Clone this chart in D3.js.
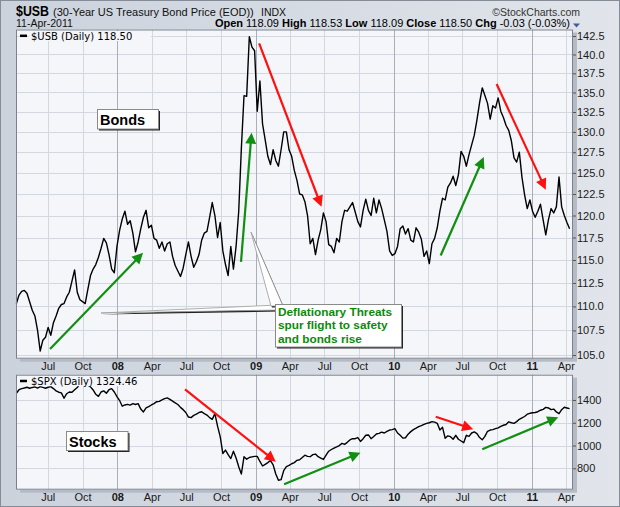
<!DOCTYPE html>
<html>
<head>
<meta charset="utf-8">
<script src="https://cdnjs.cloudflare.com/ajax/libs/d3/7.8.5/d3.min.js"></script>
<style>
  body { margin: 0; background: #fff; }
  svg { display: block; font-family: "Liberation Sans", Arial, sans-serif; }
</style>
</head>
<body>
<div id="chart"></div>
<script>
// Weekly closes. First week is 9-Apr-2007, one value per week.
const firstWeek = "2007-04-09";

const bondClose = [
  110.3, 111.2, 111.6, 111.7, 111.4, 110.5, 109.6, 109.0, 107.5, 105.4,
  106.5, 106.8, 107.8, 107.0, 108.3, 109.0, 109.8, 110.2, 110.3, 111.0,
  111.5, 112.7, 113.9, 111.5, 110.7, 110.5, 110.3, 111.8, 113.3, 114.0,
  114.5, 115.3, 116.3, 117.4, 116.9, 115.6, 114.0, 113.6, 116.5, 118.3,
  119.6, 120.5, 119.0, 119.4, 118.0, 115.9, 117.0, 118.5, 119.8, 120.6,
  118.6, 118.9, 117.4, 117.2, 116.3, 117.0, 116.0, 116.8, 117.0, 115.4,
  114.4, 113.8, 113.2, 114.1, 115.6, 117.0, 115.4, 114.2, 114.8, 115.6,
  117.2, 118.0, 118.2, 119.8, 121.5, 120.0, 117.5, 119.2, 116.0, 114.5,
  113.3, 116.5, 114.0, 116.5, 120.5, 128.0, 134.6, 134.5, 142.4, 141.0,
  140.5, 132.6, 136.5, 131.0, 129.0, 127.0, 126.0, 127.8, 126.5, 125.8,
  127.8, 130.0, 130.0, 127.8, 127.0, 125.3, 124.1, 122.5, 122.4, 121.6,
  120.0, 116.8, 117.4, 115.6, 117.2, 118.4, 120.3, 119.3, 116.7, 116.5,
  115.8, 117.4, 117.0, 119.3, 120.6, 120.5, 121.0, 121.5, 120.4, 119.3,
  118.7, 120.6, 121.9, 120.6, 120.0, 122.0, 120.3, 121.8, 120.8, 119.5,
  118.2, 116.0, 115.5, 115.7, 116.5, 118.5, 118.8, 117.9, 118.5, 117.2,
  117.0, 118.6, 118.1, 117.3, 115.4, 116.0, 114.6, 116.8, 117.4, 118.6,
  120.5, 122.0, 121.8, 123.3, 123.8, 124.6, 123.5, 124.8, 127.6, 127.0,
  125.8, 127.2, 128.4, 129.6, 131.5, 133.7, 135.6, 134.6, 133.6, 131.6,
  133.3, 133.0, 134.3, 132.6, 131.8, 130.8, 130.2, 128.9, 126.8, 126.3,
  127.5, 124.5, 122.4, 120.8, 121.8, 120.5, 119.8, 120.5, 121.3, 119.5,
  117.8, 119.5, 120.8, 120.3, 121.0, 124.5, 121.0, 120.0, 119.2, 118.5
];

const spxClose = [
  1459, 1490, 1500, 1505, 1512, 1503, 1510, 1515, 1505, 1517,
  1510, 1503, 1512, 1517, 1500, 1480, 1468, 1462, 1415, 1455,
  1470, 1468, 1490, 1510, 1540, 1555, 1550, 1530, 1515, 1488,
  1450, 1432, 1470, 1480, 1459, 1490, 1500, 1470, 1430, 1395,
  1345, 1356, 1362, 1355, 1368, 1360, 1368, 1320, 1295, 1330,
  1341, 1356, 1368, 1385, 1388, 1400, 1412, 1418, 1405, 1390,
  1375, 1360, 1335, 1315, 1290, 1250, 1245, 1265, 1275, 1290,
  1297, 1280, 1268, 1245, 1230, 1280, 1170, 1078, 930, 960,
  920, 885, 950, 890, 814, 750, 902, 880, 895, 900,
  905, 905, 860, 820, 835, 850, 868, 830, 750, 695,
  700, 780, 815, 825, 840, 850, 870, 875, 895, 915,
  905, 902, 920, 925, 902, 890, 878, 915, 950, 965,
  978, 988, 1000, 1019, 1010, 1028, 1049, 1060, 1060, 1070,
  1036, 1060, 1090, 1093, 1060, 1080, 1101, 1107, 1118, 1110,
  1125, 1136, 1140, 1148, 1110, 1090, 1065, 1068, 1100, 1122,
  1140, 1152, 1166, 1175, 1185, 1195, 1200, 1210, 1205, 1195,
  1136, 1160, 1063, 1085, 1078, 1055, 1090, 1055, 1040, 1025,
  1090, 1080, 1110, 1120, 1105, 1070, 1050, 1080, 1125, 1136,
  1140, 1148, 1155, 1168, 1178, 1185, 1208, 1200, 1195, 1210,
  1230, 1242, 1255, 1275, 1283, 1288, 1290, 1297, 1310, 1318,
  1335, 1330, 1315, 1320, 1295, 1280, 1315, 1336, 1330, 1324.46
];

const bondTicks = [105, 107.5, 110, 112.5, 115, 117.5, 120, 122.5, 125, 127.5, 130, 132.5, 135, 137.5, 140, 142.5];
const spxTicks = [800, 1000, 1200, 1400];

const monthTicks = ["2007-07-01", "2007-10-01", "2008-01-01", "2008-04-01", "2008-07-01", "2008-10-01",
  "2009-01-01", "2009-04-01", "2009-07-01", "2009-10-01", "2010-01-01", "2010-04-01",
  "2010-07-01", "2010-10-01", "2011-01-01", "2011-04-01"];
const monthLabels = ["Jul", "Oct", "08", "Apr", "Jul", "Oct", "09", "Apr", "Jul", "Oct", "10", "Apr", "Jul", "Oct", "11", "Apr"];

// trend arrows: [date, value] of tail and head
const bondArrows = [
  { from: ["2007-07-07", 105.6], to: ["2008-03-09", 115.8], up: true },
  { from: ["2008-11-23", 114.8], to: ["2008-12-21", 129.9], up: true },
  { from: ["2009-01-10", 141.5], to: ["2009-06-24", 121.0], up: false },
  { from: ["2010-05-05", 115.5], to: ["2010-08-27", 126.9], up: true },
  { from: ["2010-09-30", 136.1], to: ["2011-02-07", 123.0], up: false }
];
const spxArrows = [
  { from: ["2008-06-28", 1494], to: ["2009-02-23", 858], up: false },
  { from: ["2009-03-17", 659], to: ["2009-10-05", 937], up: true },
  { from: ["2010-04-22", 1253], to: ["2010-07-30", 1143], up: false },
  { from: ["2010-08-23", 967], to: ["2011-03-12", 1248], up: true }
];

const width = 620, height = 507;
const left = 16, right = 573;
const upper = { top: 29.5, bottom: 358.7 };
const lower = { top: 374.7, bottom: 489.7 };
const plotBg = "#f4f6fa";
const green = "#128f12", red = "#ff1010";

const parse = d3.timeParse("%Y-%m-%d");
const start = parse(firstWeek);
const weeks = bondClose.map((d, i) => d3.timeDay.offset(start, 7 * i));
const tickDates = monthTicks.map(parse);

const svg = d3.select("#chart").append("svg")
  .attr("width", width)
  .attr("height", height);

// background
const grad = svg.append("defs").append("linearGradient")
  .attr("id", "bg").attr("x1", 0).attr("x2", 1).attr("y1", 0).attr("y2", 0);
grad.append("stop").attr("offset", "0%").attr("stop-color", "#cbd2dc");
grad.append("stop").attr("offset", "100%").attr("stop-color", "#e1e5eb");
svg.append("rect").attr("width", width).attr("height", height).attr("fill", "url(#bg)");
svg.append("rect").attr("x", 0.5).attr("y", 0.5).attr("width", width - 1).attr("height", height - 1)
  .attr("fill", "none").attr("stroke", "#858c97");

// scales
const x = d3.scaleTime()
  .domain([new Date(2007, 3, 8), new Date(2011, 3, 20)])
  .range([left, right]);
const yBond = d3.scaleLog().domain([104.63, 143.39]).range([upper.bottom, upper.top]);
const ySpx = d3.scaleLinear().domain([612, 1622]).range([lower.bottom, lower.top]);

function panel(box, y, ticks, values, legendText, arrows) {
  const g = svg.append("g");
  // drop shadow + plot area
  g.append("rect").attr("x", left + 4).attr("y", box.top + 3)
    .attr("width", right - left).attr("height", box.bottom - box.top)
    .attr("fill", "#b4bbc6");
  g.append("rect").attr("x", left).attr("y", box.top)
    .attr("width", right - left).attr("height", box.bottom - box.top)
    .attr("fill", plotBg);

  // grid
  g.selectAll(".hg").data(ticks).enter().append("line")
    .attr("x1", left).attr("x2", right)
    .attr("y1", d => Math.round(y(d)) + 0.5).attr("y2", d => Math.round(y(d)) + 0.5)
    .attr("stroke", "#d3d7df");
  g.selectAll(".vg").data(tickDates).enter().append("line")
    .attr("x1", d => Math.round(x(d)) + 0.5).attr("x2", d => Math.round(x(d)) + 0.5)
    .attr("y1", box.top).attr("y2", box.bottom)
    .attr("stroke", (d, i) => monthLabels[i].length === 2 ? "#a9aeb8" : "#d3d7df");

  // price line
  const line = d3.line().x((d, i) => x(weeks[i])).y(d => y(d));
  g.append("path").datum(values)
    .attr("d", line)
    .attr("fill", "none")
    .attr("stroke", "#000")
    .attr("stroke-width", 1.4)
    .attr("stroke-linejoin", "round");

  // arrows
  arrows.forEach(a => {
    const x0 = x(parse(a.from[0])), y0 = y(a.from[1]);
    const x1 = x(parse(a.to[0])), y1 = y(a.to[1]);
    const len = Math.hypot(x1 - x0, y1 - y0);
    const ux = (x1 - x0) / len, uy = (y1 - y0) / len;
    const hl = 11, hw = 5.5;
    const bx = x1 - ux * hl, by = y1 - uy * hl;
    const col = a.up ? green : red;
    g.append("line")
      .attr("x1", x0).attr("y1", y0).attr("x2", bx + ux).attr("y2", by + uy)
      .attr("stroke", col).attr("stroke-width", 2.2);
    g.append("path")
      .attr("d", `M${x1},${y1}L${bx - uy * hw},${by + ux * hw}L${bx + uy * hw},${by - ux * hw}Z`)
      .attr("fill", col);
  });

  // legend
  const lg = g.append("g").attr("transform", `translate(0,${box.top})`);
  lg.append("rect").attr("x", 29).attr("y", 1.5).attr("width", 122).attr("height", 10)
    .attr("fill", plotBg);
  lg.append("line").attr("x1", 20).attr("x2", 27).attr("y1", 6.3).attr("y2", 6.3)
    .attr("stroke", "#000").attr("stroke-width", 2.5);
  lg.append("text").attr("x", 31).attr("y", 10)
    .style("font-family", "'DejaVu Sans', Verdana, sans-serif")
    .style("font-size", "10px")
    .attr("fill", "#000")
    .text(legendText);

  // border
  g.append("rect").attr("x", left + 0.5).attr("y", box.top + 0.5)
    .attr("width", right - left - 1).attr("height", box.bottom - box.top - 1)
    .attr("fill", "none").attr("stroke", "#7c828c");

  // right axis
  const ax = g.append("g").attr("transform", `translate(${right},0)`)
    .call(d3.axisRight(y).tickValues(ticks)
      .tickFormat(ticks[0] < 200 ? d3.format(".1f") : d3.format("d"))
      .tickSize(3).tickPadding(1));
  ax.select(".domain").remove();
  ax.selectAll("line").attr("stroke", "#555");
  ax.selectAll("text").style("font-size", "11px").attr("fill", "#1a1a1a");

  // date labels under the panel
  const bx = g.append("g").attr("transform", `translate(0,${box.bottom + 1})`)
    .call(d3.axisBottom(x).tickValues(tickDates).tickFormat((d, i) => monthLabels[i])
      .tickSize(0).tickPadding(2));
  bx.select(".domain").remove();
  bx.selectAll("text")
    .style("font-size", "11px")
    .style("font-weight", (d, i) => monthLabels[i].length === 2 ? "bold" : "normal")
    .attr("fill", "#1a1a1a");
  return g;
}

panel(upper, yBond, bondTicks, bondClose, "$USB (Daily) 118.50", bondArrows);
panel(lower, ySpx, spxTicks, spxClose, "$SPX (Daily) 1324.46", spxArrows);

// labelled boxes
function labelBox(bx, by, w, h, lines, color, size, lh) {
  svg.append("rect").attr("x", bx + 2).attr("y", by + 2).attr("width", w).attr("height", h).attr("fill", "#222");
  svg.append("rect").attr("x", bx + 0.5).attr("y", by + 0.5).attr("width", w).attr("height", h)
    .attr("fill", "#fff").attr("stroke", "#8a8a8a");
  lines.forEach((t, i) => {
    svg.append("text").attr("x", bx + 3).attr("y", by + lh * (i + 1) - (lh - size) / 2 - 1)
      .style("font-size", size + "px").style("font-weight", "bold")
      .attr("fill", color).text(t);
  });
}

// callout pointers
function wedge(pts) {
  svg.append("path").attr("d", "M" + pts.map(p => [p[0] + 1, p[1] + 1.5]).join("L") + "Z").attr("fill", "#222");
  svg.append("path").attr("d", "M" + pts.join("L") + "Z")
    .attr("fill", "#fff").attr("stroke", "#9a9a9a").attr("stroke-width", 0.8);
}
wedge([[101, 313], [278, 305], [278, 310]]);
wedge([[251, 232], [271, 306], [283, 306]]);

labelBox(97, 109, 61, 19.5, ["Bonds"], "#000", 14.5, 19.5);
labelBox(66, 431, 61.5, 19, ["Stocks"], "#000", 14.5, 19);
labelBox(275, 304, 126, 42.5, ["Deflationary Threats", "spur flight to safety", "and bonds rise"], "#0b8a0b", 11.8, 13.6);

// header
svg.append("text").attr("x", 16).attr("y", 15.5)
  .attr("textLength", 33).attr("lengthAdjust", "spacingAndGlyphs")
  .style("font-size", "15px").style("font-weight", "bold").attr("fill", "#000").text("$USB");
svg.append("text").attr("x", 53).attr("y", 15.5)
  .style("font-size", "11px").attr("fill", "#111")
  .text("(30-Year US Treasury Bond Price (EOD))");
svg.append("text").attr("x", 261).attr("y", 15.5)
  .style("font-size", "10.5px").attr("fill", "#111").text("INDX");
svg.append("text").attr("x", 580).attr("y", 15.5).attr("text-anchor", "end")
  .style("font-size", "10.5px").attr("fill", "#333").text("\u00A9StockCharts.com");
svg.append("text").attr("x", 16).attr("y", 27)
  .style("font-size", "10.5px").attr("fill", "#111").text("11-Apr-2011");

const quote = [["Open", " 118.09 "], ["High", " 118.53 "], ["Low", " 118.09 "], ["Close", " 118.50 "], ["Chg", " -0.03 (-0.03%)"]];
const qt = svg.append("text").attr("x", 570).attr("y", 27).attr("text-anchor", "end")
  .style("font-size", "11px").attr("fill", "#000").attr("xml:space", "preserve");
quote.forEach(q => {
  qt.append("tspan").style("font-weight", "bold").text(q[0]);
  qt.append("tspan").text(q[1]);
});
svg.append("path").attr("d", "M573,23.5L580,23.5L576.5,27.5Z").attr("fill", "#3d5f99");
</script>
</body>
</html>
